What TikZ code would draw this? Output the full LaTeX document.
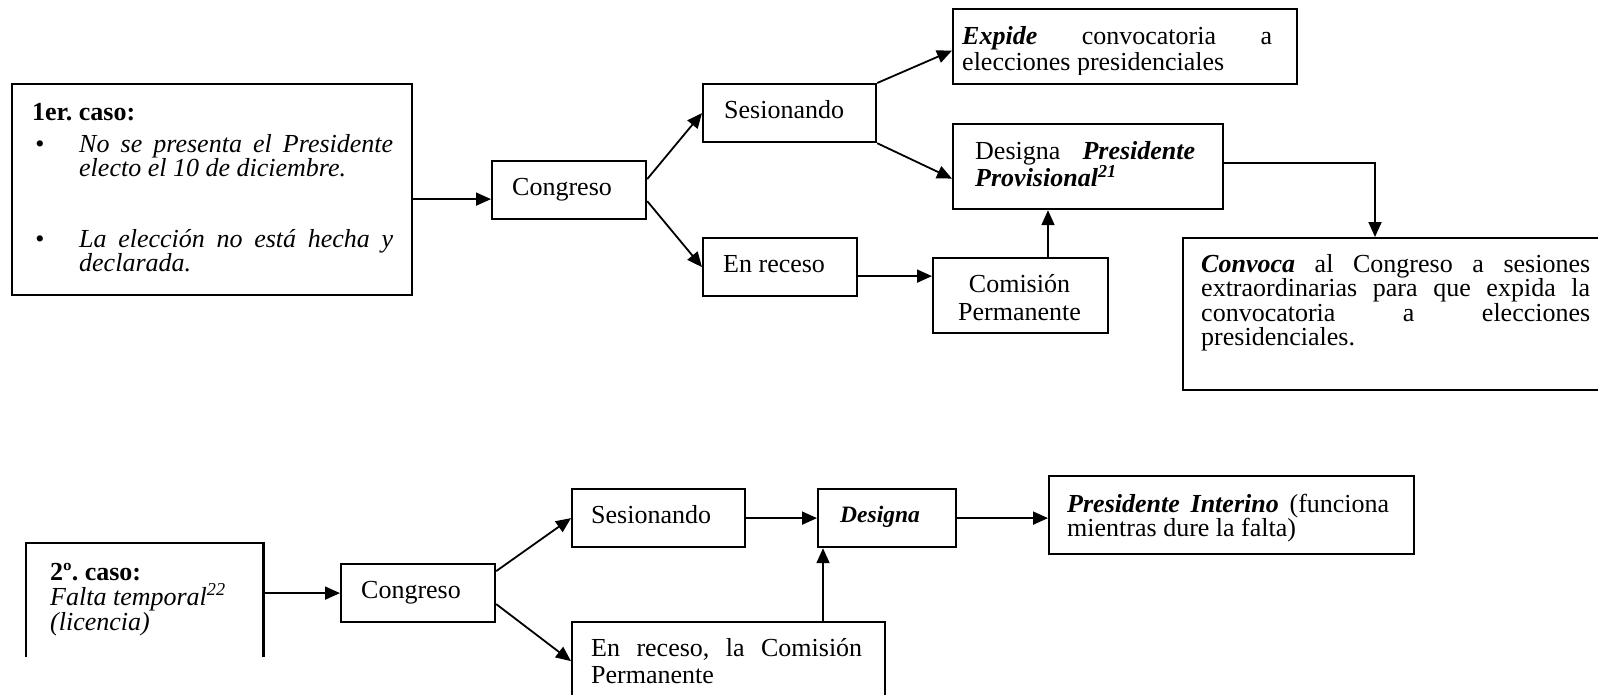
\documentclass[tikz,border=0pt]{standalone}
\usepackage{fontspec}
\setmainfont{Liberation Serif}
\usetikzlibrary{arrows.meta}
\frenchspacing
\newcommand\parbx[2]{\vtop{\hsize=#1\parindent=0pt\tolerance=10000\hbadness=10000 #2\par}}
\newcommand\bi[1]{\textbf{\textit{#1}}}
\begin{document}
\begin{tikzpicture}[x=1pt,y=-1pt,
  box/.style={draw, line width=2.2pt, inner sep=0pt, anchor=north west},
  arr/.style={line width=1.8pt, -{Triangle[length=15pt,width=13pt]}},
  txt/.style={inner sep=0pt, anchor=base west, font=\fontsize{26}{24}\selectfont},
  ctxt/.style={inner sep=0pt, anchor=base, font=\fontsize{26}{28}\selectfont},
]
\useasboundingbox (0,0) rectangle (1598,694);
\fill[white] (0,0) rectangle (1598,694);
% ---------- top: boxes
\node[box, minimum width=400pt, minimum height=211pt] (b1) at (11,83) {};
\node[box, minimum width=154pt, minimum height=58pt] (c1) at (491,160) {};
\node[box, minimum width=173pt, minimum height=58pt] (s1) at (702,83) {};
\node[box, minimum width=344pt, minimum height=75pt] (ex) at (952,8) {};
\node[box, minimum width=270pt, minimum height=85pt] (d1) at (952,123) {};
\node[box, minimum width=154pt, minimum height=58pt] (r1) at (702,237) {};
\node[box, minimum width=175pt, minimum height=75pt] (cp) at (932,257) {};
\node[box, minimum width=450pt, minimum height=152pt] (cv) at (1182,237) {};
% ---------- top: texts
\node[txt] (t1a) at (32,120) {\textbf{1er. caso:}};
\node[txt, anchor=base] (bu1) at (40,152) {•};
\node[txt] (t1b) at (79,152) {\parbx{314pt}{\itshape No se presenta el Presidente\linebreak electo el 10 de diciembre.}};
\node[txt, anchor=base] (bu2) at (40,247) {•};
\node[txt] (t1c) at (79,247) {\parbx{314pt}{\itshape La elección no está hecha y\linebreak declarada.}};
\node[txt] (tc1) at (512,195) {Congreso};
\node[txt] (ts1) at (724,118) {Sesionando};
\begin{scope}
\clip (ex.north west) rectangle ([yshift=11pt]ex.south east);
\node[txt] (tex) at (962,44) {\parbx{310pt}{\baselineskip=26pt\bi{Expide} convocatoria a\linebreak elecciones presidenciales}};
\end{scope}
\node[txt] (td1) at (975,159) {\parbx{220pt}{Designa \bi{Presidente}\linebreak \bi{Provisional\textsuperscript{21}}}};
\node[txt] (tr1) at (723,272) {En receso};
\node[ctxt] (tcp) at (1019.5,292) {\parbx{175pt}{\centering Comisión\\Permanente}};
\node[txt] (tcv) at (1201,272) {\parbx{389pt}{\baselineskip=24.5pt\bi{Convoca} al Congreso a sesiones\linebreak extraordinarias para que expida la\linebreak convocatoria a elecciones\linebreak presidenciales.}};
% ---------- top: connectors
\coordinate (a1) at ([yshift=-9pt]c1.west);
\draw[arr] (b1.east |- a1) -- (a1);
\draw[arr] ([yshift=11pt]c1.east) -- (s1.west);
\draw[arr] ([yshift=-11pt]c1.east) -- (r1.west);
\draw[arr] (s1.north east) -- ([yshift=-4pt]ex.west);
\draw[arr] (s1.south east) -- ([yshift=-12pt]d1.west);
\coordinate (a2) at ([xshift=193pt]cv.north west);
\draw[arr] ([yshift=4pt]d1.east) -| (a2);
\coordinate (a3) at ([yshift=-9pt]r1.east);
\draw[arr] (a3) -- (cp.west |- a3);
\coordinate (a4) at ([xshift=116pt]cp.north west);
\draw[arr] (a4) -- (d1.south -| a4);
% ---------- bottom: boxes
\node[inner sep=0pt, anchor=north west, minimum width=237pt, minimum height=114pt] (b2) at (26,543) {};
\draw[line width=2.2pt] (b2.south west) -- (b2.north west) -- (b2.north east) -- (b2.south east);
\node[box, minimum width=154pt, minimum height=58pt] (c2) at (340,563) {};
\node[box, minimum width=173pt, minimum height=58pt] (s2) at (571,488) {};
\node[box, minimum width=138pt, minimum height=58pt] (d2) at (817,488) {};
\node[box, minimum width=365pt, minimum height=78pt] (pi) at (1048,475) {};
\node[box, minimum width=313pt, minimum height=100pt] (r2) at (571,621) {};
% ---------- bottom: texts
\node[txt] (tb2) at (50,580) {\parbx{210pt}{\baselineskip=25pt\textbf{2º. caso:}\\\textit{Falta temporal\textsuperscript{22}}\\\textit{(licencia)}}};
\node[txt] (tc2) at (361,598) {Congreso};
\node[txt] (ts2) at (591,523) {Sesionando};
\node[txt, font=\fontsize{23.5}{24}\selectfont] (td2) at (840,522) {\bi{Designa}};
\begin{scope}
\clip (pi.north west) rectangle (pi.south east);
\node[txt] (tpi) at (1067,512) {\parbx{322pt}{\bi{Presidente Interino} (funciona\linebreak mientras dure la falta)}};
\end{scope}
\node[txt] (tr2) at (591,656) {\parbx{271pt}{\baselineskip=27pt En receso, la Comisión\linebreak Permanente}};
% ---------- bottom: connectors
\draw[arr] (b2.east |- c2.west) -- (c2.west);
\draw[arr] ([yshift=22pt]c2.east) -- (s2.west);
\draw[arr] ([yshift=-11pt]c2.east) -- ([yshift=11pt]r2.west);
\draw[arr] (s2.east) -- (d2.west);
\draw[arr] (d2.east) -- (pi.west |- d2.east);
\coordinate (a5) at ([xshift=6pt]d2.south west);
\draw[arr] (r2.north -| a5) -- (a5);
\end{tikzpicture}
\end{document}
